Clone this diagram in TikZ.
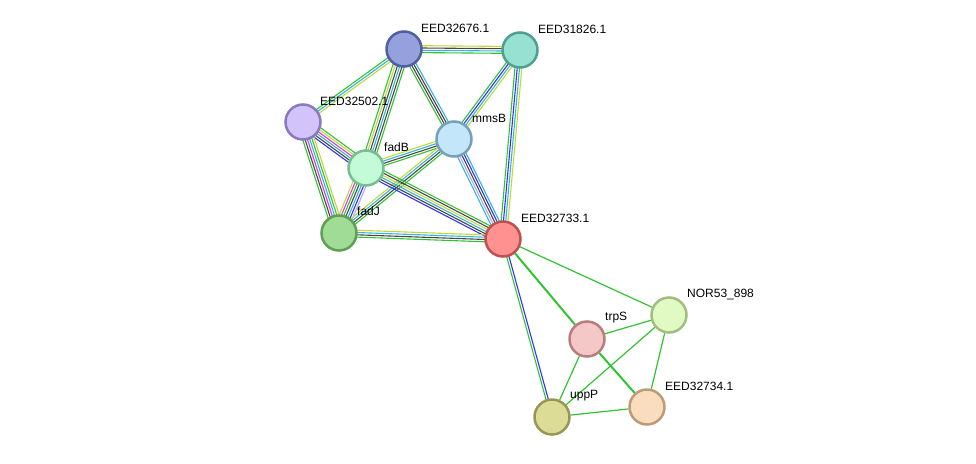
\documentclass[tikz,border=0pt]{standalone}
\usepackage{fontspec}
\setmainfont{Liberation Sans}
\usetikzlibrary{calc,backgrounds}
\definecolor{gN}{RGB}{50,195,50}
\definecolor{cD}{RGB}{50,180,220}
\definecolor{tM}{RGB}{195,215,55}
\definecolor{cX}{RGB}{70,70,70}
\definecolor{cO}{RGB}{50,50,245}
\definecolor{eX}{RGB}{230,50,230}
\definecolor{hO}{RGB}{170,170,245}
\tikzset{
  prot/.style={circle,minimum size=35pt,inner sep=0pt,line width=2.5pt},
  lab/.style={anchor=west,font=\fontsize{12}{12}\selectfont,inner sep=0pt},
  ln/.style={line width=1.1pt},
  sg/.style={gN,line width=1.2pt},
  tg/.style={gN,line width=2pt}
}
\newcommand\bund[4]{\foreach \cc [count=\ii] in {#4}{\pgfmathsetmacro\off{(\ii-(#3+1)/2)*2.3}\draw[\cc,ln] ($(#1)!\off pt!90:(#2)$) -- ($(#2)!\off pt!-90:(#1)$);}}
\begin{document}
\begin{tikzpicture}[x=1pt,y=-1pt]
\useasboundingbox (0,0) rectangle (976,463);
\node[prot,fill={rgb,255:red,150;green,160;blue,220},draw={rgb,255:red,80;green,95;blue,160}] (a676) at (404,49) {};
\node[prot,fill={rgb,255:red,150;green,225;blue,210},draw={rgb,255:red,80;green,160;blue,145}] (a826) at (520,50) {};
\node[prot,fill={rgb,255:red,210;green,195;blue,250},draw={rgb,255:red,140;green,120;blue,190}] (a502) at (303,122) {};
\node[prot,fill={rgb,255:red,195;green,230;blue,250},draw={rgb,255:red,120;green,160;blue,185}] (mms) at (454,139) {};
\node[prot,fill={rgb,255:red,195;green,250;blue,215},draw={rgb,255:red,120;green,190;blue,145}] (fadB) at (366,168) {};
\node[prot,fill={rgb,255:red,160;green,220;blue,150},draw={rgb,255:red,95;green,160;blue,85}] (fadJ) at (339,233) {};
\node[prot,fill={rgb,255:red,255;green,145;blue,145},draw={rgb,255:red,190;green,80;blue,80}] (a733) at (503,239) {};
\node[prot,fill={rgb,255:red,225;green,250;blue,195},draw={rgb,255:red,160;green,190;blue,130}] (nor) at (669,315) {};
\node[prot,fill={rgb,255:red,245;green,200;blue,200},draw={rgb,255:red,185;green,125;blue,125}] (trp) at (587,339) {};
\node[prot,fill={rgb,255:red,250;green,220;blue,190},draw={rgb,255:red,190;green,155;blue,120}] (a734) at (647,407) {};
\node[prot,fill={rgb,255:red,220;green,220;blue,150},draw={rgb,255:red,150;green,150;blue,85}] (upp) at (552,417) {};
\node[lab] at (421,28) {EED32676.1};
\node[lab] at (538,29) {EED31826.1};
\node[lab] at (320,101) {EED32502.1};
\node[lab] at (472,118) {mmsB};
\node[lab] at (384,147) {fadB};
\node[lab] at (357,211) {fadJ};
\node[lab] at (521,218) {EED32733.1};
\node[lab] at (687,294) {NOR53\_898};
\node[lab] at (605,318) {trpS};
\node[lab] at (665,386) {EED32734.1};
\node[lab] at (570,396) {uppP};
\begin{scope}[on background layer]
\bund{a676}{a826}{4}{gN,cD,cX,tM}
\bund{a676}{a502}{3}{gN,cD,tM}
\bund{a676}{fadB}{6}{gN,tM,cX,cD,cX,gN}
\bund{a676}{mms}{4}{gN,cX,cX,cD}
\bund{a826}{mms}{4}{gN,cO,cD,tM}
\bund{a826}{a733}{4}{gN,cO,cD,tM}
\bund{a502}{fadB}{6}{cO,cX,cD,eX,tM,gN}
\bund{a502}{fadJ}{6}{gN,cX,eX,cD,gN,tM}
\bund{fadB}{fadJ}{7}{tM,eX,gN,cX,cD,cO,hO}
\bund{fadB}{mms}{4}{gN,cX,cD,tM}
\bund{fadJ}{mms}{4}{gN,cX,cD,tM}
\bund{fadB}{a733}{6}{cO,cX,cD,tM,cX,gN}
\bund{fadJ}{a733}{4}{gN,cX,cD,tM}
\bund{mms}{a733}{5}{cD,hO,cX,cO,cD}
\bund{a733}{upp}{2}{gN,cO}
\draw[sg] (a733) -- (nor);
\draw[tg] (a733) -- (trp);
\draw[tg] (trp) -- (a734);
\draw[sg] (trp) -- (nor);
\draw[sg] (trp) -- (upp);
\draw[sg] (nor) -- (upp);
\draw[sg] (nor) -- (a734);
\draw[sg] (upp) -- (a734);
\end{scope}
\end{tikzpicture}
\end{document}
